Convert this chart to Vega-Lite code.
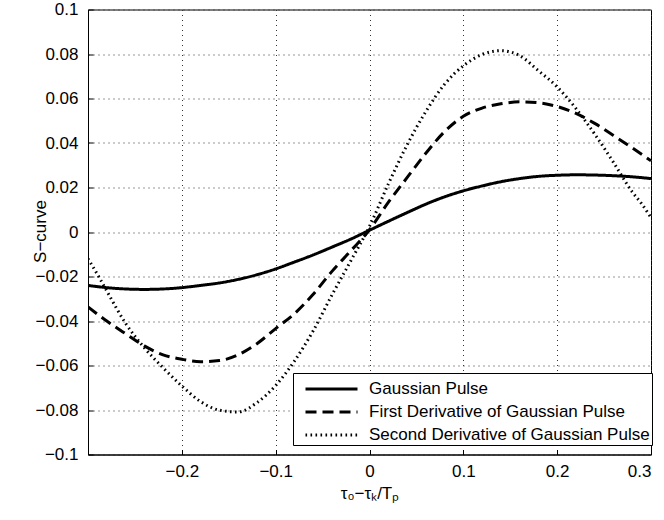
{
  "$schema": "https://vega.github.io/schema/vega-lite/v6.json",
  "width": 563,
  "height": 445,
  "autosize": {"type": "none"},
  "padding": {"left": 88, "top": 9.5, "right": 13, "bottom": 65.5},
  "background": "white",
  "config": {
    "font": "Liberation Sans",
    "view": {"stroke": "#000", "strokeWidth": 1},
    "axis": {
      "domainColor": "#000",
      "domainWidth": 1,
      "tickColor": "#000",
      "tickSize": -5,
      "grid": true,
      "gridColor": "#333",
      "gridDash": [1, 4],
      "gridWidth": 1,
      "labelFontSize": 17,
      "labelColor": "#000",
      "titleFontSize": 17,
      "titleFontWeight": "normal",
      "titleColor": "#000"
    },
    "legend": {
      "title": null,
      "orient": "none",
      "legendX": 205,
      "legendY": 363.5,
      "symbolType": "M-1,0H3",
      "symbolSize": 676,
      "symbolStrokeColor": "#000",
      "labelFontSize": 17,
      "labelColor": "#000",
      "labelLimit": 400,
      "labelOffset": 36,
      "symbolOffset": 9.5,
      "padding": 1.5,
      "rowPadding": -1.5,
      "strokeColor": "#000",
      "fillColor": "white"
    }
  },
  "datasets": {
    "curves": [
      {"s": "Gaussian Pulse", "x": -0.30, "y": -0.0240},
      {"s": "Gaussian Pulse", "x": -0.28, "y": -0.0250},
      {"s": "Gaussian Pulse", "x": -0.26, "y": -0.0256},
      {"s": "Gaussian Pulse", "x": -0.24, "y": -0.0258},
      {"s": "Gaussian Pulse", "x": -0.22, "y": -0.0256},
      {"s": "Gaussian Pulse", "x": -0.20, "y": -0.0250},
      {"s": "Gaussian Pulse", "x": -0.18, "y": -0.0240},
      {"s": "Gaussian Pulse", "x": -0.16, "y": -0.0229},
      {"s": "Gaussian Pulse", "x": -0.14, "y": -0.0213},
      {"s": "Gaussian Pulse", "x": -0.12, "y": -0.0192},
      {"s": "Gaussian Pulse", "x": -0.10, "y": -0.0166},
      {"s": "Gaussian Pulse", "x": -0.08, "y": -0.0135},
      {"s": "Gaussian Pulse", "x": -0.06, "y": -0.0103},
      {"s": "Gaussian Pulse", "x": -0.04, "y": -0.0068},
      {"s": "Gaussian Pulse", "x": -0.02, "y": -0.0032},
      {"s": "Gaussian Pulse", "x": 0.00, "y": 0.0008},
      {"s": "Gaussian Pulse", "x": 0.02, "y": 0.0048},
      {"s": "Gaussian Pulse", "x": 0.04, "y": 0.0087},
      {"s": "Gaussian Pulse", "x": 0.06, "y": 0.0125},
      {"s": "Gaussian Pulse", "x": 0.08, "y": 0.0158},
      {"s": "Gaussian Pulse", "x": 0.10, "y": 0.0185},
      {"s": "Gaussian Pulse", "x": 0.12, "y": 0.0207},
      {"s": "Gaussian Pulse", "x": 0.14, "y": 0.0226},
      {"s": "Gaussian Pulse", "x": 0.16, "y": 0.0240},
      {"s": "Gaussian Pulse", "x": 0.18, "y": 0.0250},
      {"s": "Gaussian Pulse", "x": 0.20, "y": 0.0255},
      {"s": "Gaussian Pulse", "x": 0.22, "y": 0.0257},
      {"s": "Gaussian Pulse", "x": 0.24, "y": 0.0256},
      {"s": "Gaussian Pulse", "x": 0.26, "y": 0.0253},
      {"s": "Gaussian Pulse", "x": 0.28, "y": 0.0248},
      {"s": "Gaussian Pulse", "x": 0.30, "y": 0.0240},

      {"s": "First Derivative of Gaussian Pulse", "x": -0.30, "y": -0.0337},
      {"s": "First Derivative of Gaussian Pulse", "x": -0.28, "y": -0.0400},
      {"s": "First Derivative of Gaussian Pulse", "x": -0.26, "y": -0.0457},
      {"s": "First Derivative of Gaussian Pulse", "x": -0.24, "y": -0.0512},
      {"s": "First Derivative of Gaussian Pulse", "x": -0.22, "y": -0.0552},
      {"s": "First Derivative of Gaussian Pulse", "x": -0.20, "y": -0.0572},
      {"s": "First Derivative of Gaussian Pulse", "x": -0.18, "y": -0.0583},
      {"s": "First Derivative of Gaussian Pulse", "x": -0.16, "y": -0.0578},
      {"s": "First Derivative of Gaussian Pulse", "x": -0.14, "y": -0.0552},
      {"s": "First Derivative of Gaussian Pulse", "x": -0.12, "y": -0.0502},
      {"s": "First Derivative of Gaussian Pulse", "x": -0.10, "y": -0.0434},
      {"s": "First Derivative of Gaussian Pulse", "x": -0.08, "y": -0.0367},
      {"s": "First Derivative of Gaussian Pulse", "x": -0.06, "y": -0.0280},
      {"s": "First Derivative of Gaussian Pulse", "x": -0.04, "y": -0.0177},
      {"s": "First Derivative of Gaussian Pulse", "x": -0.02, "y": -0.0085},
      {"s": "First Derivative of Gaussian Pulse", "x": 0.00, "y": 0.0010},
      {"s": "First Derivative of Gaussian Pulse", "x": 0.02, "y": 0.0133},
      {"s": "First Derivative of Gaussian Pulse", "x": 0.04, "y": 0.0244},
      {"s": "First Derivative of Gaussian Pulse", "x": 0.06, "y": 0.0354},
      {"s": "First Derivative of Gaussian Pulse", "x": 0.08, "y": 0.0451},
      {"s": "First Derivative of Gaussian Pulse", "x": 0.10, "y": 0.0520},
      {"s": "First Derivative of Gaussian Pulse", "x": 0.12, "y": 0.0557},
      {"s": "First Derivative of Gaussian Pulse", "x": 0.14, "y": 0.0576},
      {"s": "First Derivative of Gaussian Pulse", "x": 0.16, "y": 0.0585},
      {"s": "First Derivative of Gaussian Pulse", "x": 0.18, "y": 0.0581},
      {"s": "First Derivative of Gaussian Pulse", "x": 0.20, "y": 0.0564},
      {"s": "First Derivative of Gaussian Pulse", "x": 0.22, "y": 0.0533},
      {"s": "First Derivative of Gaussian Pulse", "x": 0.24, "y": 0.0488},
      {"s": "First Derivative of Gaussian Pulse", "x": 0.26, "y": 0.0434},
      {"s": "First Derivative of Gaussian Pulse", "x": 0.28, "y": 0.0378},
      {"s": "First Derivative of Gaussian Pulse", "x": 0.30, "y": 0.0320},

      {"s": "Second Derivative of Gaussian Pulse", "x": -0.30, "y": -0.0120},
      {"s": "Second Derivative of Gaussian Pulse", "x": -0.29, "y": -0.0190},
      {"s": "Second Derivative of Gaussian Pulse", "x": -0.28, "y": -0.0265},
      {"s": "Second Derivative of Gaussian Pulse", "x": -0.26, "y": -0.0410},
      {"s": "Second Derivative of Gaussian Pulse", "x": -0.24, "y": -0.0520},
      {"s": "Second Derivative of Gaussian Pulse", "x": -0.22, "y": -0.0610},
      {"s": "Second Derivative of Gaussian Pulse", "x": -0.20, "y": -0.0692},
      {"s": "Second Derivative of Gaussian Pulse", "x": -0.18, "y": -0.0762},
      {"s": "Second Derivative of Gaussian Pulse", "x": -0.16, "y": -0.0801},
      {"s": "Second Derivative of Gaussian Pulse", "x": -0.14, "y": -0.0809},
      {"s": "Second Derivative of Gaussian Pulse", "x": -0.12, "y": -0.0767},
      {"s": "Second Derivative of Gaussian Pulse", "x": -0.10, "y": -0.0690},
      {"s": "Second Derivative of Gaussian Pulse", "x": -0.08, "y": -0.0580},
      {"s": "Second Derivative of Gaussian Pulse", "x": -0.06, "y": -0.0444},
      {"s": "Second Derivative of Gaussian Pulse", "x": -0.04, "y": -0.0283},
      {"s": "Second Derivative of Gaussian Pulse", "x": -0.02, "y": -0.0130},
      {"s": "Second Derivative of Gaussian Pulse", "x": 0.00, "y": 0.0025},
      {"s": "Second Derivative of Gaussian Pulse", "x": 0.02, "y": 0.0215},
      {"s": "Second Derivative of Gaussian Pulse", "x": 0.04, "y": 0.0391},
      {"s": "Second Derivative of Gaussian Pulse", "x": 0.06, "y": 0.0541},
      {"s": "Second Derivative of Gaussian Pulse", "x": 0.08, "y": 0.0664},
      {"s": "Second Derivative of Gaussian Pulse", "x": 0.10, "y": 0.0747},
      {"s": "Second Derivative of Gaussian Pulse", "x": 0.12, "y": 0.0798},
      {"s": "Second Derivative of Gaussian Pulse", "x": 0.14, "y": 0.0815},
      {"s": "Second Derivative of Gaussian Pulse", "x": 0.16, "y": 0.0793},
      {"s": "Second Derivative of Gaussian Pulse", "x": 0.18, "y": 0.0725},
      {"s": "Second Derivative of Gaussian Pulse", "x": 0.20, "y": 0.0652},
      {"s": "Second Derivative of Gaussian Pulse", "x": 0.22, "y": 0.0555},
      {"s": "Second Derivative of Gaussian Pulse", "x": 0.24, "y": 0.0440},
      {"s": "Second Derivative of Gaussian Pulse", "x": 0.26, "y": 0.0313},
      {"s": "Second Derivative of Gaussian Pulse", "x": 0.28, "y": 0.0180},
      {"s": "Second Derivative of Gaussian Pulse", "x": 0.29, "y": 0.0127},
      {"s": "Second Derivative of Gaussian Pulse", "x": 0.30, "y": 0.0065}
    ]
  },
  "data": {"name": "curves"},
  "mark": {"type": "line", "interpolate": "monotone", "strokeCap": "butt", "color": "#000", "clip": true},
  "encoding": {
    "x": {
      "field": "x",
      "type": "quantitative",
      "scale": {"domain": [-0.3, 0.3], "nice": false, "zero": false},
      "axis": {
        "values": [-0.2, -0.1, 0, 0.1, 0.2, 0.3],
        "format": "~g",
        "labelPadding": 14,
        "title": "τ₀−τₖ/Tₚ",
        "titleY": 39,
        "titleBaseline": "middle"
      }
    },
    "y": {
      "field": "y",
      "type": "quantitative",
      "scale": {"domain": [-0.1, 0.1], "nice": false, "zero": false},
      "axis": {
        "values": [-0.1, -0.08, -0.06, -0.04, -0.02, 0, 0.02, 0.04, 0.06, 0.08, 0.1],
        "format": "~g",
        "labelPadding": 15,
        "title": "S−curve",
        "titleX": -48,
        "titleY": 221.5,
        "titleAlign": "center",
        "titleBaseline": "middle"
      }
    },
    "strokeDash": {
      "field": "s",
      "type": "nominal",
      "scale": {
        "domain": ["Gaussian Pulse", "First Derivative of Gaussian Pulse", "Second Derivative of Gaussian Pulse"],
        "range": [[1, 0], [11, 6], [1.6, 3.4]]
      },
      "legend": {}
    },
    "strokeWidth": {
      "field": "s",
      "type": "ordinal",
      "scale": {
        "domain": ["Gaussian Pulse", "First Derivative of Gaussian Pulse", "Second Derivative of Gaussian Pulse"],
        "range": [3, 3, 1.6]
      },
      "legend": {}
    }
  }
}
